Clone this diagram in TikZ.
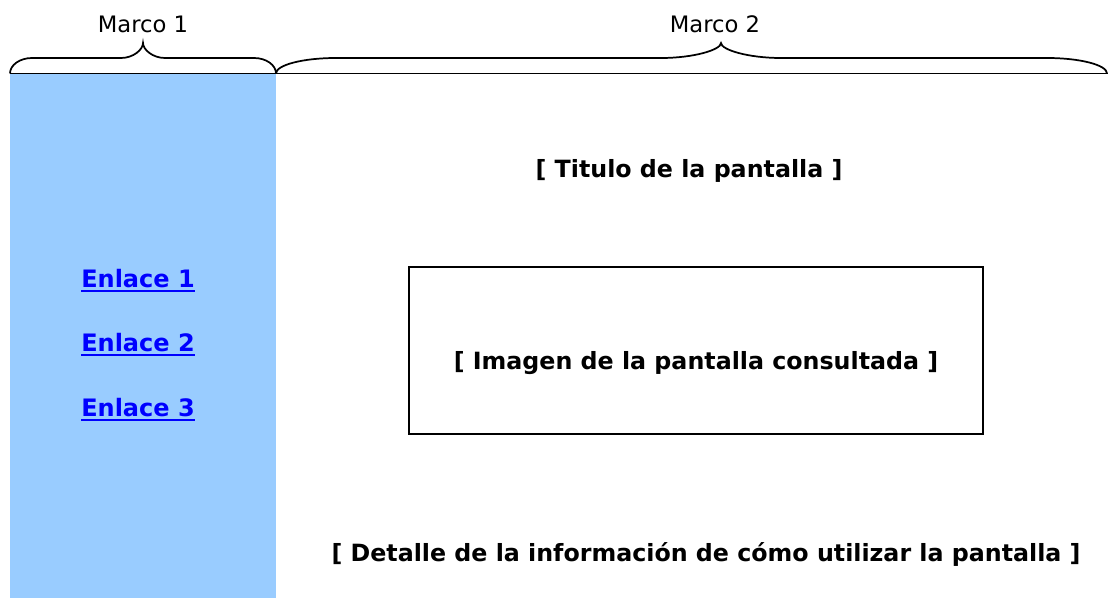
\documentclass[tikz,border=0pt]{standalone}
\usepackage{fontspec}
\setmainfont{DejaVu Sans}
\usetikzlibrary{positioning}
\definecolor{framefill}{HTML}{99CCFF}
\definecolor{linkblue}{HTML}{0000FF}
\newcommand{\linktext}[1]{%
  \setbox0\hbox{#1}\rlap{\rule[-3.4pt]{\wd0}{2pt}}\box0}
% llave: inicio, fin, punta (x), ancho de curva
\newcommand{\marcobrace}[4]{%
  \draw[llave] (#1,73.5) .. controls (#1,65) and (#1+0.448*#4,58) .. (#1+#4,58)
    -- (#3-#4,58) .. controls (#3-0.448*#4,58) and (#3,49.7) .. (#3,43)
    .. controls (#3,49.7) and (#3+0.448*#4,58) .. (#3+#4,58)
    -- (#2-#4,58) .. controls (#2-0.448*#4,58) and (#2,65) .. (#2,73.5);}

\begin{document}
\begin{tikzpicture}[x=0.75pt, y=-0.75pt,
    font=\fontsize{17}{20}\selectfont,
    llave/.style={line width=1.3pt},
    enlace/.style={text=linkblue, font=\fontsize{18}{21}\selectfont\bfseries},
    rotulo/.style={font=\fontsize{17.8}{21}\selectfont\bfseries}]
  \useasboundingbox (0,0) rectangle (1109,598);

  % marco 1, columna de enlaces
  \fill[framefill] (10,74) rectangle (276,598);
  \coordinate (m1a) at (10,73.5);
  \coordinate (m2b) at (1108,73.5);
  \draw[llave] (m1a) -- (m2b);
  \marcobrace{10}{276}{143}{22}
  \marcobrace{276}{1107}{721}{60}
  \node (marco1) at (143,24) {Marco 1};
  \node (marco2) at (715,24) {Marco 2};

  \node[enlace] (enlace1) at (138,281) {\linktext{Enlace 1}};
  \node[enlace] (enlace2) at (138,345) {\linktext{Enlace 2}};
  \node[enlace] (enlace3) at (138,410) {\linktext{Enlace 3}};

  % marco 2
  \node[rotulo] (titulo) at (689,171) {[ Titulo de la pantalla ]};
  \draw[line width=1.1pt] (409,267) rectangle (983,434);
  \node[rotulo] (imagen) at (696,363)
    {[ Imagen de la pantalla consultada ]};
  \node[rotulo] (detalle) at (706,554)
    {[ Detalle de la información de cómo utilizar la pantalla ]};
\end{tikzpicture}
\end{document}
